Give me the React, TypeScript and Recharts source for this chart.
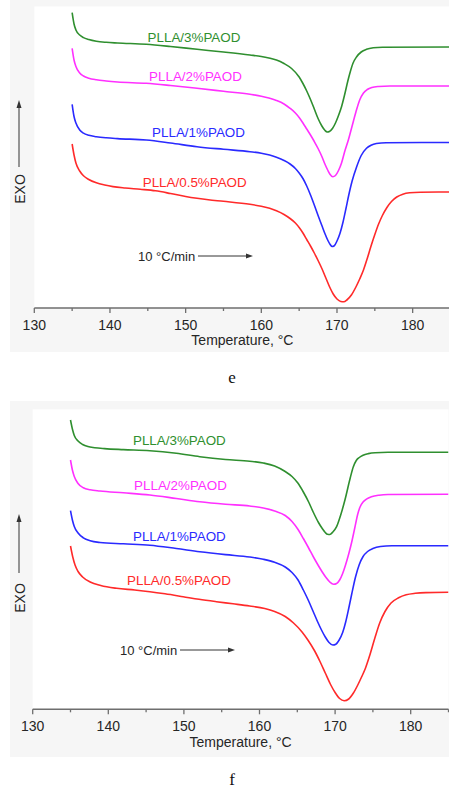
import React from 'react';
import {
  LineChart,
  Line,
  XAxis,
  YAxis,
  CartesianGrid,
  Scatter,
} from 'recharts';

const NAMES = ['PLLA/3%PAOD', 'PLLA/2%PAOD', 'PLLA/1%PAOD', 'PLLA/0.5%PAOD'];
const COLORS = ['#2f8f2f', '#ff30ff', '#2a2aff', '#ff2a2a'];
const TEMP_TICKS = [130, 135, 140, 145, 150, 155, 160, 165, 170, 175, 180, 185];
const RATE_TEXT = '10 \u00b0C/min';

// panel e: temperature (°C) / heat flow (arb. units, exo up)
const e3T = [135.0, 135.25, 135.5, 136.0, 136.5, 137.2, 138.2, 139.5, 141, 144.8, 148, 151.5, 155, 158.5, 160, 161, 162, 163, 164, 165, 165.5, 166, 166.5, 167, 167.5, 168, 168.4, 168.7, 169.0, 169.4, 169.8, 170.2, 170.6, 171.0, 171.4, 171.7, 172.1, 172.6, 173.2, 173.9, 174.8, 176, 185];
const e3Y = [29.53, 28.4, 27.8, 27.3, 27.04, 26.85, 26.68, 26.57, 26.5, 26.37, 26.15, 25.87, 25.6, 25.3, 25.15, 25.0, 24.8, 24.45, 23.95, 23.1, 22.45, 21.7, 20.85, 19.9, 18.95, 18.2, 17.77, 17.6, 17.65, 17.95, 18.5, 19.25, 20.13, 21.3, 22.6, 23.47, 24.45, 25.13, 25.6, 25.87, 26.02, 26.08, 26.1];
const e2T = [135.0, 135.25, 135.5, 136.0, 136.5, 137.2, 138.2, 139.5, 141, 144.8, 148, 151.5, 155, 158.5, 160, 161, 162, 163, 163.8, 164.5, 165, 165.5, 166, 166.5, 167, 167.5, 168, 168.4, 168.8, 169.1, 169.45, 169.8, 170.2, 170.6, 171.0, 171.5, 172.0, 172.5, 173.0, 173.5, 174.0, 174.6, 175.5, 177, 185];
const e2Y = [25.97, 24.8, 24.15, 23.5, 23.2, 22.98, 22.82, 22.7, 22.6, 22.47, 22.25, 21.97, 21.67, 21.37, 21.18, 21.0, 20.75, 20.4, 19.97, 19.5, 19.05, 18.5, 17.9, 17.3, 16.65, 15.95, 15.15, 14.4, 13.75, 13.35, 13.13, 13.25, 13.75, 14.5, 15.6, 16.8, 18.2, 19.6, 20.8, 21.5, 21.85, 22.05, 22.15, 22.2, 22.2];
const e1T = [135.0, 135.25, 135.5, 136.0, 136.5, 137.2, 138.2, 139.5, 141, 144.8, 148, 151.5, 155, 158.5, 160, 161.1, 162, 163, 163.8, 164.5, 165, 165.5, 166, 166.5, 167, 167.5, 168, 168.4, 168.8, 169.1, 169.35, 169.6, 170.0, 170.4, 170.8, 171.2, 171.5, 172.0, 172.6, 173.2, 173.9, 174.5, 175.2, 176.5, 185];
const e1Y = [20.37, 19.15, 18.5, 17.8, 17.48, 17.27, 17.13, 17.02, 16.94, 16.8, 16.5, 16.13, 15.87, 15.63, 15.48, 15.3, 15.07, 14.75, 14.4, 13.95, 13.5, 12.95, 12.2, 11.3, 10.3, 9.25, 8.25, 7.45, 6.75, 6.35, 6.15, 6.2, 6.7, 7.47, 8.6, 10.0, 11.1, 12.7, 14.13, 15.25, 15.97, 16.28, 16.45, 16.53, 16.55];
const e05T = [135.0, 135.25, 135.5, 136.0, 136.5, 137.2, 138.2, 139.3, 140.4, 142, 144, 146, 148, 150, 151.5, 153, 155, 158.5, 160, 161.1, 162, 163, 163.8, 164.5, 165, 165.5, 166, 166.5, 167, 167.5, 168, 168.5, 169, 169.5, 170, 170.5, 170.9, 171.3, 171.9, 172.5, 173, 173.5, 174, 174.5, 175, 175.5, 176, 176.6, 177.2, 177.9, 178.7, 179.6, 181, 185];
const e05Y = [16.4, 15.3, 14.5, 13.7, 13.22, 12.85, 12.52, 12.3, 12.14, 12.0, 11.87, 11.72, 11.45, 11.15, 10.97, 10.82, 10.67, 10.37, 10.17, 9.97, 9.72, 9.35, 8.95, 8.5, 8.05, 7.5, 6.85, 6.2, 5.5, 4.75, 3.95, 3.05, 2.15, 1.4, 0.9, 0.65, 0.62, 0.8, 1.3, 2.1, 2.9, 3.8, 4.95, 6.2, 7.35, 8.4, 9.25, 10.05, 10.65, 11.1, 11.38, 11.52, 11.58, 11.6];
const eLabelT = [151.1, 151.3, 151.7, 151.2];
const eLabelY = [27.1, 23.13, 17.53, 12.57];
const eRate = [{ t: 143.7, v: 5.2 }];

// panel f
const f3T = [135.0, 135.25, 135.5, 136.0, 136.6, 137.3, 138.2, 139.5, 142, 145.5, 149, 152.1, 155.5, 158.7, 160.5, 162, 163.4, 164.3, 165.1, 165.8, 166.5, 167.1, 167.8, 168.3, 168.7, 169.0, 169.3, 169.7, 170.2, 170.7, 171.3, 172.0, 172.4, 172.8, 173.2, 173.7, 174.4, 175.3, 177, 185];
const f3Y = [28.93, 28.03, 27.38, 26.83, 26.48, 26.27, 26.16, 26.07, 25.97, 25.86, 25.6, 25.26, 24.98, 24.81, 24.63, 24.33, 23.78, 23.28, 22.6, 21.73, 20.73, 19.73, 18.68, 18.08, 17.68, 17.5, 17.48, 17.73, 18.26, 19.33, 20.93, 23.13, 24.23, 24.88, 25.18, 25.41, 25.57, 25.66, 25.7, 25.7];
const f2T = [135.0, 135.25, 135.5, 136.0, 136.7, 137.6, 138.9, 142, 145.5, 149, 152.1, 155.5, 158.7, 160.5, 162, 163.4, 164.3, 165.1, 165.8, 166.5, 167.1, 167.7, 168.3, 168.8, 169.3, 169.8, 170.2, 170.6, 171.0, 171.4, 171.8, 172.2, 172.6, 173.0, 173.3, 173.7, 174.2, 174.8, 175.8, 177, 185];
const f2Y = [24.93, 23.93, 23.28, 22.58, 22.15, 21.95, 21.83, 21.65, 21.43, 21.08, 20.76, 20.51, 20.33, 20.13, 19.83, 19.38, 18.78, 17.98, 17.08, 16.13, 15.28, 14.48, 13.73, 13.18, 12.73, 12.5, 12.58, 12.93, 13.58, 14.48, 15.53, 16.73, 18.13, 19.53, 20.23, 20.73, 21.05, 21.25, 21.41, 21.48, 21.5];
const f1T = [135.0, 135.25, 135.5, 136.0, 136.7, 137.6, 138.9, 142, 145.5, 149, 152.1, 155.5, 158.7, 160.5, 162, 163.4, 164.3, 165.1, 165.8, 166.5, 167.1, 167.7, 168.2, 168.7, 169.2, 169.7, 170.1, 170.5, 171.0, 171.4, 171.8, 172.2, 172.7, 173.2, 173.7, 174.3, 175.0, 176.0, 177.5, 185];
const f1Y = [19.86, 18.93, 18.28, 17.63, 17.15, 16.85, 16.68, 16.55, 16.41, 16.08, 15.76, 15.47, 15.23, 15.0, 14.7, 14.23, 13.68, 12.93, 11.93, 10.83, 9.78, 8.73, 7.93, 7.23, 6.68, 6.43, 6.51, 6.88, 7.68, 8.73, 10.08, 11.53, 13.23, 14.48, 15.28, 15.78, 16.08, 16.28, 16.35, 16.36];
const f05T = [135.0, 135.3, 135.6, 136.0, 136.6, 137.6, 139.0, 141.1, 143.5, 145.5, 147.5, 149.9, 152, 154.3, 156.5, 158.7, 160.7, 162, 163.4, 164.5, 165.6, 166.4, 167.3, 168, 168.7, 169.4, 170.0, 170.6, 171.2, 171.8, 172.4, 173.0, 173.5, 174.0, 174.6, 175.3, 175.9, 176.6, 177.4, 178.4, 179.4, 180.6, 182, 185];
const f05Y = [16.33, 15.23, 14.43, 13.78, 13.23, 12.73, 12.38, 12.1, 11.93, 11.76, 11.55, 11.26, 11.0, 10.76, 10.55, 10.33, 10.08, 9.78, 9.28, 8.63, 7.76, 6.93, 5.83, 4.78, 3.63, 2.48, 1.68, 1.08, 0.86, 1.03, 1.6, 2.43, 3.23, 4.08, 5.43, 7.23, 8.63, 9.78, 10.63, 11.15, 11.45, 11.6, 11.67, 11.7];
const fLabelT = [149.4, 149.55, 149.4, 149.35];
const fLabelY = [26.86, 22.43, 17.26, 12.93];
const fRate = [{ t: 141.55, v: 5.93 }];

const FONT = '"Liberation Sans", Arial, sans-serif';
const AXIS = '#6e6e6e';

const pts = (ts: number[], vs: number[]) => ts.map((t, i) => ({ t, v: vs[i] }));
const labelPts = (ts: number[], vs: number[]) =>
  ts.map((t, i) => ({ t, v: vs[i], name: NAMES[i], color: COLORS[i] }));

function TempTick(props: any) {
  const { x, y, payload } = props;
  const major = payload.value % 10 === 0;
  return (
    <g>
      <line x1={x} x2={x} y1={y} y2={y + (major ? 5 : 3)} stroke={AXIS} strokeWidth={1.3} />
      {major && (
        <text x={x} y={y + 22} textAnchor="middle" fontSize={14} fill="#262626" fontFamily={FONT}>
          {payload.value}
        </text>
      )}
    </g>
  );
}

function CurveLabel(props: any) {
  const { cx, cy, payload } = props;
  return (
    <text x={cx} y={cy} textAnchor="middle" dominantBaseline="central" fontSize={13.4} fill={payload.color} fontFamily={FONT}>
      {payload.name}
    </text>
  );
}

function RateNote(props: any) {
  const { cx, cy } = props;
  return (
    <g>
      <text x={cx} y={cy} dominantBaseline="central" fontSize={13} fill="#262626" fontFamily={FONT}>
        {RATE_TEXT}
      </text>
      <line x1={cx + 60} x2={cx + 110} y1={cy} y2={cy} stroke="#333" strokeWidth={1} />
      <polygon points={`${cx + 115},${cy} ${cx + 108},${cy - 2.5} ${cx + 108},${cy + 2.5}`} fill="#333" />
    </g>
  );
}

interface PanelProps {
  series: { t: number; v: number }[][];
  labels: { t: number; v: number; name: string; color: string }[];
  rate: { t: number; v: number }[];
  width: number;
  height: number;
  margin: { top: number; right: number; bottom: number; left: number };
  axisHeight: number;
  yMax: number;
  titleOffset: number;
  rightFrame: boolean;
}

function Panel({ series, labels, rate, width, height, margin, axisHeight, yMax, titleOffset, rightFrame }: PanelProps) {
  return (
    <LineChart width={width} height={height} margin={margin} style={{ fontFamily: FONT }}>
      <CartesianGrid fill="#ffffff" stroke="none" />
      <XAxis
        dataKey="t"
        type="number"
        domain={[130, 185]}
        ticks={TEMP_TICKS}
        interval={0}
        allowDataOverflow
        height={axisHeight}
        tickSize={0}
        tickMargin={0}
        tickLine={false}
        tick={(p: any) => <TempTick {...p} />}
        axisLine={{ stroke: AXIS, strokeWidth: 1.5 }}
        label={{ value: 'Temperature, \u00b0C', position: 'insideBottom', offset: titleOffset, fontSize: 14, fill: '#262626' }}
      />
      <XAxis
        xAxisId="top"
        orientation="top"
        type="number"
        domain={[130, 185]}
        height={0}
        tick={false}
        tickLine={false}
        axisLine={{ stroke: AXIS, strokeWidth: 1.5 }}
      />
      <YAxis
        type="number"
        domain={[0, yMax]}
        allowDataOverflow
        width={0}
        tick={false}
        tickLine={false}
        axisLine={{ stroke: AXIS, strokeWidth: 1.5 }}
      />
      {rightFrame && (
        <YAxis
          yAxisId="right"
          orientation="right"
          type="number"
          domain={[0, yMax]}
          width={0}
          tick={false}
          tickLine={false}
          axisLine={{ stroke: AXIS, strokeWidth: 1.5 }}
        />
      )}
      {series.map((d, i) => (
        <Line
          key={NAMES[i]}
          data={d}
          dataKey="v"
          type="monotone"
          stroke={COLORS[i]}
          strokeWidth={1.6}
          dot={false}
          activeDot={false}
          isAnimationActive={false}
        />
      ))}
      <Scatter data={labels} dataKey="v" shape={(p: any) => <CurveLabel {...p} />} isAnimationActive={false} />
      <Scatter data={rate} dataKey="v" shape={(p: any) => <RateNote {...p} />} isAnimationActive={false} />
    </LineChart>
  );
}

function ExoMark({ x, textY, lineTop, lineBottom }: { x: number; textY: number; lineTop: number; lineBottom: number }) {
  return (
    <g>
      <text
        x={x}
        y={textY}
        transform={`rotate(-90 ${x} ${textY})`}
        textAnchor="middle"
        dominantBaseline="central"
        fontSize={14}
        fill="#262626"
        fontFamily={FONT}
      >
        EXO
      </text>
      <line x1={x - 0.5} x2={x - 0.5} y1={lineBottom} y2={lineTop + 6} stroke="#333" strokeWidth={1} />
      <polygon points={`${x - 0.5},${lineTop} ${x - 3},${lineTop + 8} ${x + 2},${lineTop + 8}`} fill="#333" />
    </g>
  );
}

export default function App() {
  const seriesE = [pts(e3T, e3Y), pts(e2T, e2Y), pts(e1T, e1Y), pts(e05T, e05Y)];
  const seriesF = [pts(f3T, f3Y), pts(f2T, f2Y), pts(f1T, f1Y), pts(f05T, f05Y)];
  const caption: React.CSSProperties = {
    position: 'absolute',
    left: 0,
    width: 464,
    textAlign: 'center',
    fontFamily: '"Liberation Serif", "Times New Roman", serif',
    fontSize: 17,
    lineHeight: '20px',
    color: '#111',
  };
  return (
    <div style={{ position: 'absolute', left: 0, top: 0, width: 449, height: 793, background: '#fff', overflow: 'hidden' }}>
      <div style={{ position: 'absolute', left: 10, top: 0, width: 439, height: 352, background: '#f6f6f6' }} />
      <div style={{ position: 'absolute', left: 10, top: 401, width: 439, height: 356, background: '#f6f6f6' }} />
      <div style={{ position: 'absolute', left: 0, top: 0 }}>
        <Panel
          series={seriesE}
          labels={labelPts(eLabelT, eLabelY)}
          rate={eRate}
          width={452}
          height={352}
          margin={{ top: 6.5, right: 1.5, bottom: 0, left: 34.3 }}
          axisHeight={44}
          yMax={30.15}
          titleOffset={7}
          rightFrame={false}
        />
      </div>
      <div style={{ position: 'absolute', left: 0, top: 401 }}>
        <Panel
          series={seriesF}
          labels={labelPts(fLabelT, fLabelY)}
          rate={fRate}
          width={449}
          height={356}
          margin={{ top: 8.3, right: 0.5, bottom: 0, left: 32.7 }}
          axisHeight={47.7}
          yMax={30}
          titleOffset={10}
          rightFrame={true}
        />
      </div>
      <div style={{ ...caption, top: 368 }}>e</div>
      <div style={{ ...caption, top: 770 }}>f</div>
      <svg width={449} height={793} style={{ position: 'absolute', left: 0, top: 0, pointerEvents: 'none' }}>
        <ExoMark x={19.5} textY={189} lineTop={100} lineBottom={167} />
        <ExoMark x={19.5} textY={598} lineTop={514} lineBottom={573} />
      </svg>
    </div>
  );
}
